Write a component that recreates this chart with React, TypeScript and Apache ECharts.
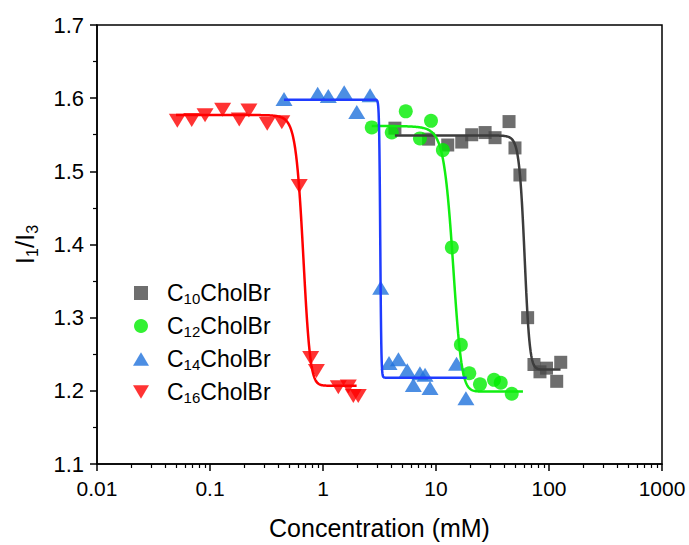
import React, { useEffect, useRef } from 'react';
import * as echarts from 'echarts';

// ---- data ----
const seriesNames = ['C10CholBr', 'C12CholBr', 'C14CholBr', 'C16CholBr'];
const seriesSubs = ['10', '12', '14', '16'];

const c10X = [4.33, 8.6, 12.7, 16.9, 20.7, 27.2, 33.3, 44.3, 50.0, 55.3, 64.7, 73.6, 83.2, 95, 117, 127];
const c10Y = [1.559, 1.544, 1.536, 1.540, 1.550, 1.553, 1.546, 1.568, 1.532, 1.495, 1.300, 1.236, 1.226, 1.231, 1.213, 1.239];

const c12X = [2.70, 4.06, 5.40, 7.21, 9.03, 11.5, 13.8, 16.6, 19.7, 24.5, 32.6, 37.4, 46.8];
const c12Y = [1.560, 1.553, 1.582, 1.545, 1.569, 1.529, 1.396, 1.263, 1.224, 1.209, 1.215, 1.211, 1.196];

const c14X = [0.452, 0.897, 1.114, 1.54, 1.99, 2.61, 3.24, 3.84, 4.65, 5.57, 6.30, 7.21, 8.0, 8.85, 15.2, 18.4];
const c14Y = [1.599, 1.606, 1.603, 1.608, 1.581, 1.604, 1.341, 1.238, 1.243, 1.228, 1.208, 1.224, 1.222, 1.204, 1.237, 1.190];

const c16X = [0.0514, 0.0689, 0.0904, 0.1294, 0.1815, 0.221, 0.321, 0.432, 0.616, 0.778, 0.874, 1.366, 1.675, 1.855, 2.05];
const c16Y = [1.569, 1.570, 1.5765, 1.584, 1.571, 1.583, 1.565, 1.567, 1.480, 1.245, 1.227, 1.205, 1.206, 1.193, 1.193];

// Boltzmann fit parameters: [A1, A2, x0, dx, xStart, xEnd]
const fitC10 = [1.549, 1.229, 60.6, 3.3, 4.33, 127];
const fitC12 = [1.562, 1.199, 14.05, 1.3, 2.7, 59];
const fitC14 = [1.598, 1.218, 3.21, 0.035, 0.452, 18.7];
const fitC16 = [1.577, 1.207, 0.665, 0.05, 0.05, 2.0];

const xTickLabels = ['0.01', '0.1', '1', '10', '100', '1000'];
const yTickMin = 1.1;
const yTickMax = 1.7;
const yTickStep = 0.1;

const FONT = '"Liberation Sans", Arial, Helvetica, sans-serif';

function zip(xs: number[], ys: number[]) {
  return xs.map((x, i) => [x, ys[i]]);
}

function fitCurve(p: number[]) {
  const [A1, A2, x0, dx, xs, xe] = p;
  const n = 900;
  const out: number[][] = [];
  const l0 = Math.log10(xs);
  const l1 = Math.log10(xe);
  for (let i = 0; i <= n; i++) {
    const x = Math.pow(10, l0 + ((l1 - l0) * i) / n);
    const y = A2 + (A1 - A2) / (1 + Math.exp((x - x0) / dx));
    out.push([x, y]);
  }
  return out;
}

function minorTicks() {
  const vals: number[] = [];
  for (let i = 0; i < xTickLabels.length - 1; i++) {
    const base = parseFloat(xTickLabels[i]);
    for (let k = 2; k <= 9; k++) vals.push(+(base * k).toPrecision(6));
  }
  return vals;
}

export default function App() {
  const ref = useRef<HTMLDivElement>(null);

  useEffect(() => {
    if (!ref.current) return;
    const chart = echarts.init(ref.current, undefined, { renderer: 'svg' });

    const colors = {
      c10m: '#4a4a4a', c10l: '#3c3c3c',
      c12m: '#00ee00', c12l: '#11ee11',
      c14m: '#1f72dc', c14l: '#1f3cff',
      c16m: '#ff0000', c16l: '#ff0000',
    };

    const legendIcons = [
      'path://M0,0L10,0L10,10L0,10Z',
      'circle',
      'path://M6,0L12,10L0,10Z',
      'path://M0,0L12,0L6,10Z',
    ];

    const scatterBase = { type: 'scatter', xAxisIndex: 0, yAxisIndex: 0, z: 3 };
    const lineBase = {
      type: 'line', xAxisIndex: 0, yAxisIndex: 0, showSymbol: false, symbol: 'none',
      silent: true, z: 4,
    };

    const option: any = {
      animation: false,
      backgroundColor: '#fff',
      grid: {
        left: 97, right: 27, top: 25, bottom: 75,
        show: true, borderColor: '#000', borderWidth: 1.5, backgroundColor: 'transparent',
      },
      legend: {
        data: seriesNames.map((n, i) => ({ name: n, icon: legendIcons[i] })),
        orient: 'vertical',
        left: 128,
        top: 274,
        itemWidth: 16,
        itemHeight: 14,
        itemGap: 6,
        formatter: (name: string) => {
          const i = seriesNames.indexOf(name);
          return `{g|}{n|C}{s|${seriesSubs[i]}}{n|CholBr}`;
        },
        textStyle: {
          fontFamily: FONT,
          rich: {
            g: { width: 13, fontSize: 23, lineHeight: 26 },
            n: { fontSize: 23, fontFamily: FONT, color: '#000', lineHeight: 26 },
            s: { fontSize: 15, fontFamily: FONT, color: '#000', lineHeight: 26, verticalAlign: 'bottom', padding: [12, 0, 0, 0] },
          },
        },
      },
      xAxis: [
        {
          type: 'log', logBase: 10, min: 0.01, max: 1000, position: 'bottom',
          name: 'Concentration (mM)', nameLocation: 'middle', nameGap: 51,
          nameTextStyle: { fontFamily: FONT, fontSize: 25, color: '#000' },
          axisLine: { show: true, lineStyle: { color: '#000', width: 1.5 } },
          axisTick: { show: true, length: 7, lineStyle: { color: '#000', width: 1.5 } },
          axisLabel: {
            show: true, margin: 14, fontFamily: FONT, fontSize: 21, color: '#000',
            formatter: (_v: number, idx: number) => xTickLabels[idx] ?? '',
          },
          splitLine: { show: false },
          minorTick: { show: false },
        },
        {
          type: 'log', logBase: 10, min: 0.01, max: 1000, position: 'bottom',
          axisLine: { show: false },
          axisTick: { show: true, length: 4, customValues: minorTicks(), lineStyle: { color: '#000', width: 1.2 } },
          axisLabel: { show: false },
          splitLine: { show: false },
        },
      ],
      yAxis: {
        type: 'value', min: yTickMin, max: yTickMax, interval: yTickStep,
        name: '{n|I}{s|1}{n|/I}{s|3}', nameLocation: 'middle', nameGap: 57, nameRotate: 90,
        nameTextStyle: {
          fontFamily: FONT,
          rich: {
            n: { fontSize: 26, fontFamily: FONT, color: '#000', lineHeight: 30 },
            s: { fontSize: 16, fontFamily: FONT, color: '#000', lineHeight: 30, verticalAlign: 'bottom', padding: [13, 0, 0, 0] },
          },
        },
        axisLine: { show: true, lineStyle: { color: '#000', width: 1.5 } },
        axisTick: { show: true, length: 7, lineStyle: { color: '#000', width: 1.5 } },
        minorTick: { show: true, splitNumber: 2, length: 4, lineStyle: { color: '#000', width: 1.2 } },
        axisLabel: {
          margin: 13, fontFamily: FONT, fontSize: 22, color: '#000',
          formatter: (v: number) => v.toFixed(1),
        },
        splitLine: { show: false },
        minorSplitLine: { show: false },
      },
      series: [
        { ...scatterBase, name: seriesNames[0], data: zip(c10X, c10Y), symbol: 'rect', symbolSize: 13, itemStyle: { color: colors.c10m } },
        { ...lineBase, name: 'fit10', data: fitCurve(fitC10), lineStyle: { color: colors.c10l, width: 2.5 } },
        { ...scatterBase, name: seriesNames[1], data: zip(c12X, c12Y), symbol: 'circle', symbolSize: 14, itemStyle: { color: colors.c12m } },
        { ...lineBase, name: 'fit12', data: fitCurve(fitC12), lineStyle: { color: colors.c12l, width: 2.5 } },
        { ...scatterBase, name: seriesNames[2], data: zip(c14X, c14Y), symbol: 'triangle', symbolSize: [17, 14], itemStyle: { color: colors.c14m } },
        { ...lineBase, name: 'fit14', data: fitCurve(fitC14), lineStyle: { color: colors.c14l, width: 2.5 } },
        { ...scatterBase, name: seriesNames[3], data: zip(c16X, c16Y), symbol: 'triangle', symbolRotate: 180, symbolSize: [17, 14], itemStyle: { color: colors.c16m } },
        { ...lineBase, name: 'fit16', data: fitCurve(fitC16), lineStyle: { color: colors.c16l, width: 2.5 } },
      ],
    };

    chart.setOption(option);
    return () => chart.dispose();
  }, []);

  return <div ref={ref} style={{ width: 689, height: 545, position: 'absolute', left: 0, top: 0 }} />;
}
